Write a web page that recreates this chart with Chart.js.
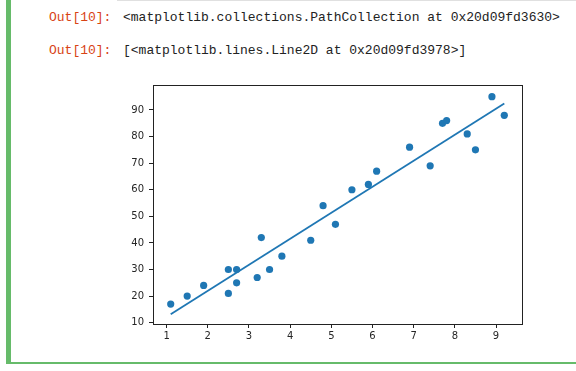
<!DOCTYPE html>
<html>
<head>
<meta charset="utf-8">
<script src="https://cdn.jsdelivr.net/npm/chart.js@4"></script>
<style>
  body { margin: 0; width: 576px; height: 371px; background: #fff; position: relative; overflow: hidden; }
  .bar { position: absolute; left: 6px; top: 0; width: 5px; height: 363px; background: #66bb6a; }
  .bottom { position: absolute; left: 6px; top: 362px; width: 570px; height: 2px; background: #66bb6a; }
  .topline { position: absolute; left: 117px; top: 0; width: 459px; height: 1px; background: #e0e0e0; }
  .out { position: absolute; font: 13px "Liberation Mono", monospace; white-space: pre; }
  .prompt { color: #d84315; left: 49px; }
  .code { color: #222; left: 123px; }
  #wrap { position: absolute; left: 0; top: 60px; }
</style>
</head>
<body>
<div class="bar"></div>
<div class="bottom"></div>
<div class="topline"></div>
<div class="out prompt" style="top:10px">Out[10]:</div>
<div class="out code" style="top:10px">&lt;matplotlib.collections.PathCollection at 0x20d09fd3630&gt;</div>
<div class="out prompt" style="top:43px">Out[10]:</div>
<div class="out code" style="top:43px">[&lt;matplotlib.lines.Line2D at 0x20d09fd3978&gt;]</div>
<div id="wrap"><canvas id="c" width="576" height="300"></canvas></div>
<script>
const hours = [2.5, 5.1, 3.2, 8.5, 3.5, 1.5, 9.2, 5.5, 8.3, 2.7, 7.7, 5.9, 4.5, 3.3, 1.1, 8.9, 2.5, 1.9, 6.1, 7.4, 2.7, 4.8, 3.8, 6.9, 7.8];
const scores = [21, 47, 27, 75, 30, 20, 88, 60, 81, 25, 85, 62, 41, 42, 17, 95, 30, 24, 67, 69, 30, 54, 35, 76, 86];
const fitX = [1.1, 9.2];
const fitY = [13.2, 92.4];
const xTicks = [1, 2, 3, 4, 5, 6, 7, 8, 9];
const yTicks = [10, 20, 30, 40, 50, 60, 70, 80, 90];

const blue = '#1f77b4';

// box around the plot, like matplotlib spines
const frame = {
  id: 'frame',
  afterDraw(chart) {
    const a = chart.chartArea, ctx = chart.ctx;
    ctx.save();
    ctx.strokeStyle = '#222';
    ctx.lineWidth = 1;
    ctx.strokeRect(Math.round(a.left) + 0.5, Math.round(a.top) + 0.5,
      Math.round(a.right - a.left), Math.round(a.bottom - a.top));
    ctx.restore();
  }
};

const axisCommon = {
  type: 'linear',
  border: { display: false },
  grid: { drawOnChartArea: false, tickLength: 4, tickColor: '#222', lineWidth: 1 },
  ticks: { color: '#262626', font: { family: 'DejaVu Sans', size: 10 } }
};

new Chart(document.getElementById('c'), {
  type: 'scatter',
  data: {
    datasets: [{
      data: hours.map((h, i) => ({ x: h, y: scores[i] })),
      backgroundColor: blue,
      borderWidth: 0,
      pointRadius: 3.6
    }, {
      data: fitX.map((h, i) => ({ x: h, y: fitY[i] })),
      showLine: true,
      borderColor: blue,
      borderWidth: 1.8,
      pointRadius: 0
    }]
  },
  options: {
    responsive: false,
    animation: false,
    layout: { padding: { left: 113, right: 54, top: 25, bottom: 6 } },
    plugins: { legend: { display: false }, tooltip: { enabled: false } },
    scales: {
      x: {
        ...axisCommon,
        min: 0.67, max: 9.63,
        afterBuildTicks: s => { s.ticks = xTicks.map(v => ({ value: v })); },
        afterFit: s => { s.height = 30; },
        ticks: { ...axisCommon.ticks, padding: 2 }
      },
      y: {
        ...axisCommon,
        min: 9.5, max: 99.4,
        afterBuildTicks: s => { s.ticks = yTicks.map(v => ({ value: v })); },
        afterFit: s => { s.width = 40; },
        ticks: { ...axisCommon.ticks, padding: 5 }
      }
    }
  },
  plugins: [frame]
});
</script>
</body>
</html>
